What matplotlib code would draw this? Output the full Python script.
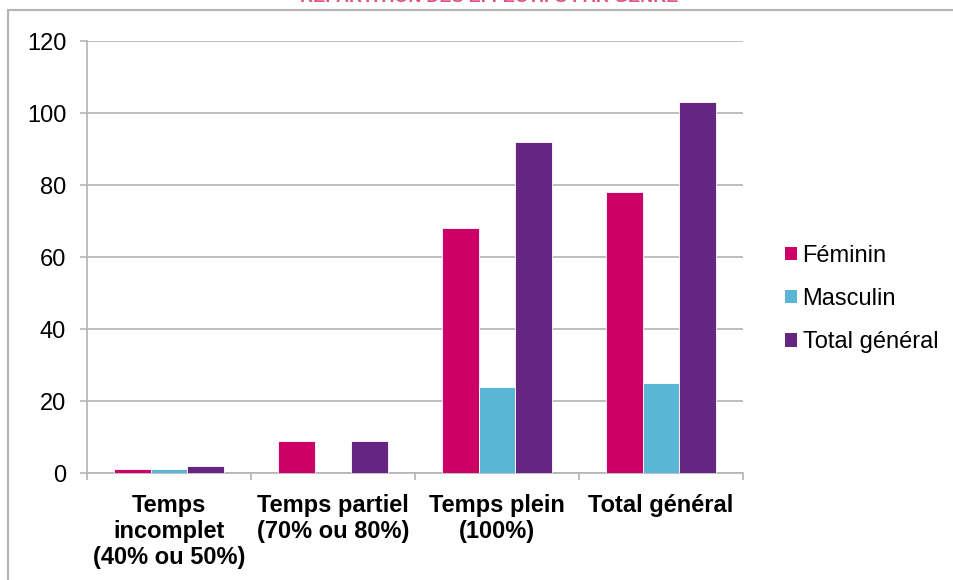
import matplotlib.pyplot as plt
import numpy as np
from matplotlib.lines import Line2D

categories = ["Temps\nincomplet\n(40% ou 50%)", "Temps partiel\n(70% ou 80%)",
              "Temps plein\n(100%)", "Total général"]
series_names = ["Féminin", "Masculin", "Total général"]
feminin = [1, 9, 68, 78]
masculin = [1, 0, 24, 25]
total = [2, 9, 92, 103]
colors = ["#cc0066", "#5bb6d6", "#662483"]
grid_color = "#b4b4b4"

plt.rcParams["font.family"] = ["Liberation Sans", "DejaVu Sans"]

fig = plt.figure(figsize=(9.54, 5.8), dpi=100)
ax = fig.add_axes([87 / 954, 107 / 580, 656 / 954, 432 / 580])

# Three bars per category, side by side
x = np.arange(len(categories))
width = 0.223
for i, (name, vals) in enumerate(zip(series_names, [feminin, masculin, total])):
    ax.bar(x + (i - 1) * width, vals, width, color=colors[i], label=name,
           edgecolor="white", linewidth=0.6, zorder=3)

ax.set_xlim(-0.5, len(categories) - 0.5)
ax.set_ylim(0, 120)
ax.set_yticks(range(0, 121, 20))
ax.yaxis.grid(True, color=grid_color, linewidth=1.2, zorder=0)

# Category boundaries carry the tick marks, centers carry the labels
ax.set_xticks(np.arange(len(categories) + 1) - 0.5)
ax.set_xticklabels([])
ax.set_xticks(x, minor=True)
ax.set_xticklabels(categories, minor=True, fontsize=17, fontweight="bold",
                   linespacing=1.17)
ax.tick_params(axis="x", which="major", length=5, width=1.2, color=grid_color)
ax.tick_params(axis="x", which="minor", length=0, pad=15)
ax.tick_params(axis="y", length=5, width=1.2, color=grid_color, pad=10,
               labelsize=17)

for side in ["top", "right"]:
    ax.spines[side].set_visible(False)
for side in ["left", "bottom"]:
    ax.spines[side].set_color(grid_color)
    ax.spines[side].set_linewidth(1.2)

leg = fig.legend(loc="center left", bbox_to_anchor=(773 / 954, 1 - 299 / 580),
                 frameon=False, fontsize=17, handlelength=0.5, handleheight=0.5,
                 handletextpad=0.25, labelspacing=0.9, borderpad=0)
for h in leg.legend_handles:
    h.set_edgecolor("none")

# Chart frame and title strip at the top
fig.add_artist(Line2D([8 / 954, 8 / 954], [0, 1 - 10 / 580], color=grid_color,
                      linewidth=1.5, transform=fig.transFigure))
fig.add_artist(Line2D([8 / 954, 1], [1 - 10 / 580, 1 - 10 / 580],
                      color=grid_color, linewidth=1.5, transform=fig.transFigure))
fig.text(489 / 954, 1 - 2 / 580, "RÉPARTITION DES EFFECTIFS PAR GENRE",
         ha="center", va="baseline", fontsize=13, fontweight="bold",
         color="#e2508a")

fig.savefig("out.png", dpi=100)
